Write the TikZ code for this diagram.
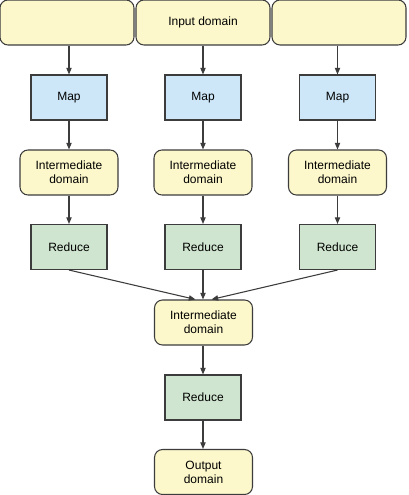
\documentclass[tikz,border=0pt]{standalone}
\usepackage{fontspec}
\setmainfont{Liberation Sans}
\usetikzlibrary{arrows.meta}
\definecolor{domfill}{HTML}{FCF8CB}
\definecolor{mapfill}{HTML}{CDE7F8}
\definecolor{redfill}{HTML}{CFE5CF}
\definecolor{lineclr}{HTML}{3C3C3C}

\tikzset{
	dombox/.style={draw=lineclr, fill=domfill, line width=0.8pt, rounded corners=6pt, align=center, inner sep=0pt, minimum width=73.5pt, minimum height=33.75pt},
	inbox/.style={dombox, minimum width=100.5pt},
	mapbox/.style={draw=lineclr, fill=mapfill, line width=0.8pt, inner sep=0pt, minimum width=57pt, minimum height=33.75pt},
	redbox/.style={mapbox, fill=redfill},
	flow/.style={draw=lineclr, line width=0.8pt, -{Triangle[length=5pt, width=4pt]}}
}

\begin{document}
\begin{tikzpicture}[x=0.75pt, y=-0.75pt, font=\fontsize{9}{10.5}\selectfont]
	\useasboundingbox[fill=white] (0,0) rectangle (408,495);

	\node[inbox] (inL) at (67,22.5) {};
	\node[inbox] (inM) at (203,22.5) {Input domain};
	\node[inbox] (inR) at (339,22.5) {};

	\node[mapbox] (mapL) at (69,97.5) {Map};
	\node[mapbox] (mapM) at (203,97.5) {Map};
	\node[mapbox] (mapR) at (337.5,97.5) {Map};

	\node[dombox] (midL) at (69,172.5) {Intermediate\\domain};
	\node[dombox] (midM) at (203,172.5) {Intermediate\\domain};
	\node[dombox] (midR) at (337.5,172.5) {Intermediate\\domain};

	\node[redbox] (redL) at (69,247) {Reduce};
	\node[redbox] (redM) at (203,247) {Reduce};
	\node[redbox] (redR) at (337.5,247) {Reduce};

	\node[dombox] (mergeMid) at (203.5,322.5) {Intermediate\\domain};
	\node[redbox] (redFinal) at (203,397.5) {Reduce};
	\node[dombox] (outDom) at (203.5,472) {Output\\domain};

	\draw[flow] (inL.south -| mapL) -- (mapL.north);
	\draw[flow] (inM.south) -- (mapM.north);
	\draw[flow] (inR.south -| mapR) -- (mapR.north);

	\draw[flow] (mapL) -- (midL);
	\draw[flow] (mapM) -- (midM);
	\draw[flow] (mapR) -- (midR);

	\draw[flow] (midL) -- (redL);
	\draw[flow] (midM) -- (redM);
	\draw[flow] (midR) -- (redR);

	\draw[flow] (redL.south) -- ([xshift=-6pt]mergeMid.north);
	\draw[flow] (redM.south) -- (redM.south |- mergeMid.north);
	\draw[flow] (redR.south) -- ([xshift=6pt]mergeMid.north);

	\draw[flow] (mergeMid.south -| redFinal) -- (redFinal.north);
	\draw[flow] (redFinal.south) -- (redFinal.south |- outDom.north);
\end{tikzpicture}
\end{document}
